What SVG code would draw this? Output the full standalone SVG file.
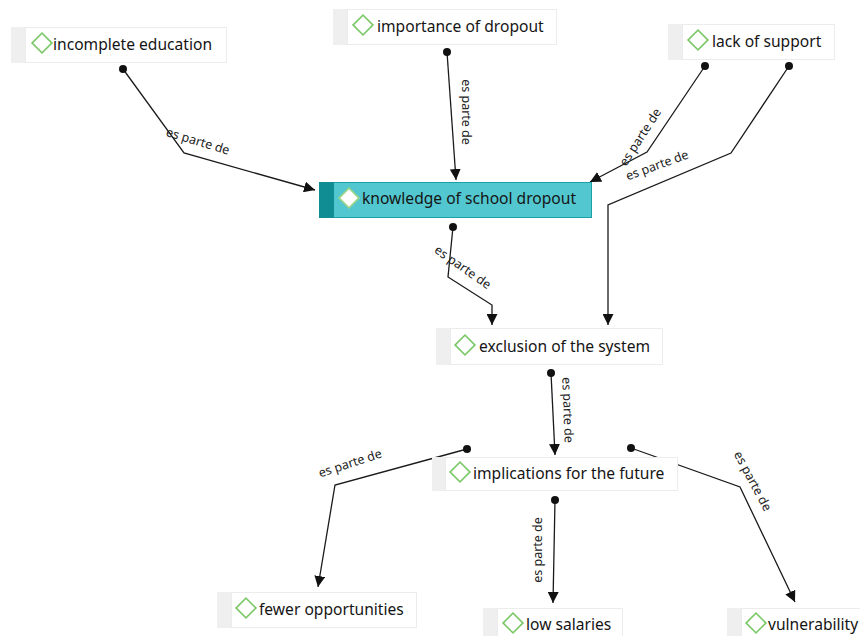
<svg xmlns="http://www.w3.org/2000/svg" width="860" height="636" viewBox="0 0 860 636">
<style>
.strip{fill:#efefef}
.box{fill:#ffffff;stroke:#ececec;stroke-width:1}
.dia{fill:none;stroke:#7dc96a;stroke-width:1.7}
.lbl{font-family:"Noto Sans","Open Sans",sans-serif;font-size:15.6px;fill:#151515;dominant-baseline:central}
.conn{fill:none;stroke:#1a1a1a;stroke-width:1.3;marker-start:url(#dot);marker-end:url(#arr)}
.cl{font-family:"Noto Sans","Open Sans",sans-serif;font-size:12.5px;fill:#222;text-anchor:middle;dominant-baseline:central}
</style>
<defs>
<marker id="arr" viewBox="0 0 10 10" refX="10" refY="5" markerWidth="11" markerHeight="11" markerUnits="userSpaceOnUse" orient="auto">
<path d="M0,0 L10,5 L0,10 Z" fill="#111"/>
</marker>
<marker id="dot" viewBox="0 0 10 10" refX="5" refY="5" markerWidth="8" markerHeight="8" markerUnits="userSpaceOnUse">
<circle cx="5" cy="5" r="5" fill="#111"/>
</marker>
</defs>
<rect width="860" height="636" fill="#ffffff"/>
<g id="connectors">
<path class="conn" d="M123,69 L184,153 L315,190"/>
<path class="conn" d="M447,52 L456,180"/>
<path class="conn" d="M705,66 L647,152 L590,182"/>
<path class="conn" d="M789,66 L731,153 L608,205 L608,325"/>
<path class="conn" d="M453,227 L448,277 L492,305 L492,325"/>
<path class="conn" d="M551,373 L555,455"/>
<path class="conn" d="M467,449 L335,485 L318,587"/>
<path class="conn" d="M555,500 L553,603"/>
<path class="conn" d="M631,448 L740,487 L795,602"/>
<text class="cl" transform="translate(198,141) rotate(17)">es parte de</text>
<text class="cl" transform="translate(466,112) rotate(90)">es parte de</text>
<text class="cl" transform="translate(640,137) rotate(-57)">es parte de</text>
<text class="cl" transform="translate(657,165) rotate(-20)">es parte de</text>
<text class="cl" transform="translate(463,267) rotate(35)">es parte de</text>
<text class="cl" transform="translate(568,410) rotate(88)">es parte de</text>
<text class="cl" transform="translate(350,463) rotate(-18)">es parte de</text>
<text class="cl" transform="translate(537,550) rotate(-90)">es parte de</text>
<text class="cl" transform="translate(753,481) rotate(62)">es parte de</text>
</g>
<g id="n-incomplete">
<rect class="strip" x="11" y="27" width="15" height="36"/>
<rect class="box" x="25.5" y="27.5" width="201" height="35"/>
<rect class="dia" x="35" y="36" width="14" height="14" transform="rotate(45 42 43)"/>
<text class="lbl" x="53" y="44">incomplete education</text>
</g>
<g id="n-importance">
<rect class="strip" x="333" y="9" width="15" height="36"/>
<rect class="box" x="347.5" y="9.5" width="209" height="35"/>
<rect class="dia" x="356" y="18" width="14" height="14" transform="rotate(45 363 25)"/>
<text class="lbl" x="377" y="26">importance of dropout</text>
</g>
<g id="n-lack">
<rect class="strip" x="668" y="24" width="15" height="36"/>
<rect class="box" x="682.5" y="24.5" width="152" height="35"/>
<rect class="dia" x="691" y="33" width="14" height="14" transform="rotate(45 698 40)"/>
<text class="lbl" x="712" y="41">lack of support</text>
</g>
<g id="n-knowledge">
<rect x="319.5" y="182.5" width="272" height="35" fill="#52c7cf" stroke="#1aa0a7" stroke-width="1"/>
<rect x="319" y="182" width="15" height="36" fill="#0f8d93"/>
<rect x="342" y="191" width="14" height="14" transform="rotate(45 349 198)" fill="#ffffff" stroke="#9ad48a" stroke-width="1.7"/>
<text class="lbl" x="362" y="198" fill="#10282a">knowledge of school dropout</text>
</g>
<g id="n-exclusion">
<rect class="strip" x="436" y="328" width="15" height="37"/>
<rect class="box" x="450.5" y="328.5" width="212" height="36"/>
<rect class="dia" x="458" y="338" width="14" height="14" transform="rotate(45 465 345)"/>
<text class="lbl" x="479" y="346">exclusion of the system</text>
</g>
<g id="n-implications">
<rect class="strip" x="432" y="457" width="14" height="34"/>
<rect class="box" x="445.5" y="457.5" width="232" height="33"/>
<rect class="dia" x="453" y="465" width="14" height="14" transform="rotate(45 460 472)"/>
<text class="lbl" x="473" y="473">implications for the future</text>
</g>
<g id="n-fewer">
<rect class="strip" x="217" y="592" width="15" height="36"/>
<rect class="box" x="231.5" y="592.5" width="185" height="35"/>
<rect class="dia" x="239" y="601" width="14" height="14" transform="rotate(45 246 608)"/>
<text class="lbl" x="259" y="609">fewer opportunities</text>
</g>
<g id="n-low">
<rect class="strip" x="483" y="608" width="15" height="30"/>
<rect class="box" x="497.5" y="608.5" width="125" height="30"/>
<rect class="dia" x="506" y="616" width="14" height="14" transform="rotate(45 513 623)"/>
<text class="lbl" x="526" y="624">low salaries</text>
</g>
<g id="n-vulnerability">
<rect class="strip" x="727" y="608" width="15" height="30"/>
<rect class="box" x="741.5" y="608.5" width="125" height="30"/>
<rect class="dia" x="749" y="616" width="14" height="14" transform="rotate(45 756 623)"/>
<text class="lbl" x="768" y="624">vulnerability</text>
</g>
</svg>
